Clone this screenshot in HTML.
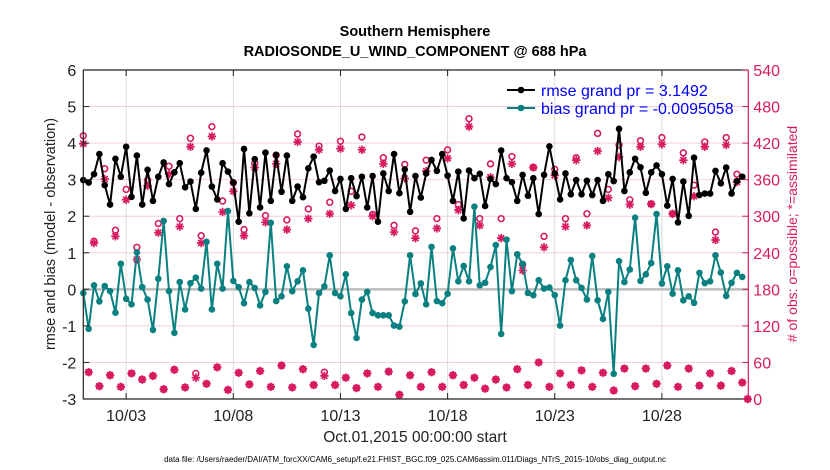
<!DOCTYPE html>
<html><head><meta charset="utf-8"><style>
body{margin:0;background:#fff;}
svg{display:block;font-family:"Liberation Sans",sans-serif;}
</style></head><body>
<svg id="chart" width="830" height="470" viewBox="0 0 830 470">
<rect width="830" height="470" fill="#fff"/>
<text x="415" y="36" text-anchor="middle" font-size="14.5" font-weight="bold" fill="#000">Southern Hemisphere</text>
<text x="415" y="56" text-anchor="middle" font-size="14.5" font-weight="bold" fill="#000">RADIOSONDE_U_WIND_COMPONENT @ 688 hPa</text>
<g id="grid"></g>
<g id="marks"></g>
<g id="axes"></g>
<text transform="translate(55,234) rotate(-90)" text-anchor="middle" font-size="14.5" fill="#222">rmse and bias (model - observation)</text>
<text transform="translate(797,234) rotate(-90)" text-anchor="middle" font-size="14" fill="#d81b60"># of obs: o=possible; *=assimilated</text>
<text x="415" y="442" text-anchor="middle" font-size="15.5" fill="#222">Oct.01,2015 00:00:00 start</text>
<text x="415" y="462" text-anchor="middle" font-size="8" fill="#000">data file: /Users/raeder/DAI/ATM_forcXX/CAM6_setup/f.e21.FHIST_BGC.f09_025.CAM6assim.011/Diags_NTrS_2015-10/obs_diag_output.nc</text>
<g>
<line x1="507" y1="90" x2="535" y2="90" stroke="#000" stroke-width="2"/>
<circle cx="521" cy="90" r="3.3" fill="#000"/>
<text x="541" y="96" font-size="16" fill="#0000ff">rmse grand pr = 3.1492</text>
<line x1="507" y1="108" x2="535" y2="108" stroke="#008080" stroke-width="2"/>
<circle cx="521" cy="108" r="3.3" fill="#008080"/>
<text x="541" y="114" font-size="16" fill="#0000ff">bias grand pr = -0.0095058</text>
</g>
</svg>
<script>
const rmse = [2.99,2.92,3.15,3.70,2.85,2.32,3.57,3.08,3.90,2.53,3.66,2.32,3.27,2.42,3.08,3.47,2.88,3.20,3.45,2.79,2.95,2.20,3.19,3.80,2.81,2.46,3.45,3.22,2.92,1.85,3.84,2.08,
3.56,2.24,3.74,2.42,3.68,2.67,3.66,2.42,2.81,2.52,3.31,3.63,2.93,2.97,3.25,2.69,3.02,2.20,3.04,2.55,3.08,2.24,3.10,1.85,3.17,2.69,3.70,2.63,3.28,2.12,3.10,
2.51,3.17,3.54,3.24,3.70,3.11,2.42,3.22,1.94,3.25,3.04,3.16,2.28,3.02,2.88,3.80,3.04,2.93,2.42,3.13,2.56,3.04,2.06,3.13,3.91,3.17,2.46,3.17,2.60,
2.99,2.60,2.97,2.58,2.99,2.42,3.15,2.96,4.39,2.69,3.20,3.57,3.34,2.64,3.20,3.39,3.15,2.29,3.02,1.83,2.95,2.01,3.60,2.58,2.62,2.62,3.24,2.90,3.33,2.62,2.96,3.08];
const bias = [-0.10,-1.08,0.11,-0.33,0.09,-0.05,-0.64,0.70,-0.26,-0.41,1.01,0.06,-0.28,-1.11,0.29,1.87,-0.05,-1.19,0.20,-0.55,0.17,0.32,0.02,1.30,-0.55,0.70,0.02,2.14,0.23,0.06,-0.38,0.20,
0.04,-0.44,-0.07,1.82,-0.32,-0.19,0.63,-0.05,0.22,0.52,-0.53,-1.52,-0.10,0.08,0.93,-0.10,-0.19,0.41,-0.65,-1.33,-0.28,-0.07,-0.65,-0.71,-0.71,-0.71,-0.99,-1.02,-0.33,0.93,-0.13,
0.16,-0.41,1.16,-0.32,-0.38,-0.12,1.12,0.22,0.64,0.22,2.26,0.11,0.18,0.61,1.21,-1.22,1.36,-0.05,0.96,0.69,-0.10,-0.16,0.25,0.02,0.05,-0.16,-0.99,0.25,0.80,
0.25,0.04,-0.28,0.91,-0.30,-0.81,-0.07,-2.31,0.77,0.20,0.54,1.96,0.23,0.41,0.72,2.06,0.16,0.63,-0.12,0.52,-0.30,-0.19,-0.37,0.45,0.17,0.22,0.93,0.46,-0.18,0.18,0.45,0.34];
const obsPossible = [432,44,259,21,378,39,277,20,344,42,249,32,359,38,288,16,382,48,296,19,428,42,268,25,447,52,325,15,355,43,278,24,
387,46,301,20,400,55,294,19,435,49,312,23,415,44,323,23,423,35,341,18,430,42,303,20,396,45,285,7,385,39,276,
20,392,44,296,20,409,39,319,23,460,35,296,17,386,32,296,19,398,49,221,23,380,60,267,20,377,42,296,23,396,47,
304,20,436,43,344,14,417,50,327,21,424,50,320,25,429,55,304,20,404,50,351,22,422,42,274,22,429,46,369,27,0];
const obsAssim = [419,44,256,21,361,39,267,20,327,42,229,32,350,38,273,16,369,48,283,19,414,35,256,25,431,52,307,15,341,43,268,24,
380,46,290,20,386,55,278,19,422,49,296,23,409,38,304,23,411,35,318,18,409,42,300,20,386,45,274,7,362,39,264,
20,374,44,280,20,395,39,310,23,447,35,285,17,364,32,264,19,386,49,211,23,380,60,249,20,367,42,283,23,392,47,
285,20,407,43,330,14,397,50,319,21,414,50,320,25,418,55,304,20,392,50,333,22,414,42,261,22,417,46,356,27,0];
const dayTicks = [2,7,12,17,22,27];
const dayLabels = ["10/03","10/08","10/13","10/18","10/23","10/28"];
const leftTicks = [-3,-2,-1,0,1,2,3,4,5,6];
const rightTicks = [0,60,120,180,240,300,360,420,480,540];

const NS = "http://www.w3.org/2000/svg";
const X0 = 83.3, X1 = 748.3, Y0 = 70, Y1 = 399;
const DAYW = 21.43;
function xDay(d){ return X0 + d * DAYW; }
function xIdx(i){ return xDay(i * 0.25); }
function yL(v){ return Y1 - (v + 3) / 9 * (Y1 - Y0); }
function yR(c){ return Y1 - c / 540 * (Y1 - Y0); }
function mk(tag, attrs, parent){
  const e = document.createElementNS(NS, tag);
  for (const k in attrs) e.setAttribute(k, attrs[k]);
  parent.appendChild(e); return e;
}
const grid = document.getElementById('grid');
const marks = document.getElementById('marks');
const axes = document.getElementById('axes');

leftTicks.forEach(function(t){
  if (t === -3 || t === 6) return;
  const l = mk('line', {x1:X0, x2:X1, y1:yL(t), y2:yL(t), stroke:'#f2cfdc', 'stroke-width':1}, grid);
  
  
});
dayTicks.forEach(function(d){
  const l = mk('line', {x1:xDay(d), x2:xDay(d), y1:Y0, y2:Y1, stroke:'#dcdcdc', 'stroke-width':1}, grid);
  
  
});
const zl = mk('line', {x1:X0, x2:X1, y1:yL(0), y2:yL(0), stroke:'#bdbdbd', 'stroke-width':2.5}, grid);



const red = '#d81b60';
for (let i = 0; i < obsPossible.length; i++){
  const x = xIdx(i);
  const yc = yR(obsPossible[i]);
  const c = mk('circle', {cx:x, cy:yc, r:2.9, fill:'none', stroke:red, 'stroke-width':1.6}, marks);
  
  
  const ya = yR(obsAssim[i]);
  const s = 4.2, d = 3;
  const p = mk('path', {d:'M'+(x-s)+' '+ya+'H'+(x+s)+'M'+x+' '+(ya-s)+'V'+(ya+s)+'M'+(x-d)+' '+(ya-d)+'L'+(x+d)+' '+(ya+d)+'M'+(x-d)+' '+(ya+d)+'L'+(x+d)+' '+(ya-d), stroke:red, 'stroke-width':1.7, fill:'none'}, marks);
  
  
}

function series(vals, color, name){
  let d = '';
  vals.forEach(function(v,i){ d += (i ? 'L' : 'M') + xIdx(i).toFixed(2) + ' ' + yL(v).toFixed(2); });
  const pl = mk('path', {d:d, stroke:color, 'stroke-width':2, fill:'none', 'stroke-linejoin':'round'}, marks);
  
  
  vals.forEach(function(v,i){
    const c = mk('circle', {cx:xIdx(i), cy:yL(v), r:3.3, fill:color}, marks);
    
    
  });
}
series(bias, '#0a8080', 'bias');
series(rmse, '#000000', 'rmse');

const box = mk('path', {d:'M'+X0+' '+Y0+'H'+X1+'M'+X0+' '+Y0+'V'+Y1+'H'+X1, stroke:'#222', 'stroke-width':1.2, fill:'none'}, axes);


const ra = mk('line', {x1:X1, x2:X1, y1:Y0, y2:Y1, stroke:red, 'stroke-width':1.2}, axes);


leftTicks.forEach(function(t){
  const y = yL(t);
  const tk = mk('line', {x1:X0, x2:X0+6, y1:y, y2:y, stroke:'#222', 'stroke-width':1}, axes);
  
  
  const tx = mk('text', {x:X0-7, y:y+6, 'text-anchor':'end', 'font-size':16, fill:'#222'}, axes);
  tx.textContent = String(t);
  
  
});
rightTicks.forEach(function(t){
  const y = yR(t);
  const tk = mk('line', {x1:X1-6, x2:X1, y1:y, y2:y, stroke:red, 'stroke-width':1}, axes);
  
  
  const tx = mk('text', {x:X1+5, y:y+6, 'text-anchor':'start', 'font-size':16, fill:red}, axes);
  tx.textContent = String(t);
  
  
});
dayTicks.forEach(function(d, k){
  const x = xDay(d);
  const tk = mk('path', {d:'M'+x+' '+Y1+'V'+(Y1-6)+'M'+x+' '+Y0+'V'+(Y0+6), stroke:'#222', 'stroke-width':1}, axes);
  
  
  const tx = mk('text', {x:x, y:Y1+22, 'text-anchor':'middle', 'font-size':16, fill:'#222'}, axes);
  tx.textContent = dayLabels[k];
  
  
});
</script>
</body></html>
